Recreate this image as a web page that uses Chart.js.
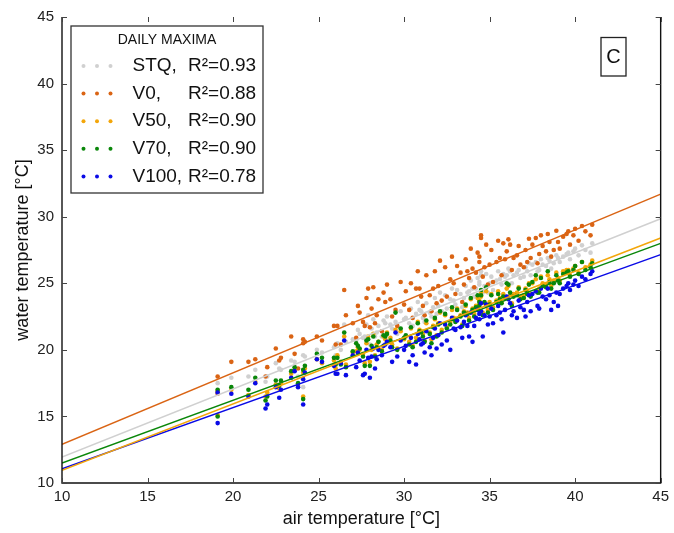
<!DOCTYPE html>
<html><head><meta charset="utf-8">
<script src="https://cdn.jsdelivr.net/npm/chart.js@4/dist/chart.umd.min.js"></script>
<style>html,body{margin:0;padding:0;background:#fff}#wrap{width:674px;height:533px;position:relative}</style>
</head><body><div id="wrap"><canvas id="c" width="674" height="533"></canvas></div>
<script>
// daily maximum air temperature (x) shared by every series
const airTemp = [19.1,19.1,19.9,20.9,21.3,21.9,22.0,22.5,22.7,22.8,23.4,23.6,23.8,24.1,24.1,24.2,24.9,25.2,25.9,26.0,
26.1,26.3,26.5,26.6,27.0,27.2,27.3,27.6,27.7,27.9,28.0,28.1,28.2,28.4,28.5,28.7,28.9,29.0,29.2,29.5,
29.6,30.1,30.3,30.4,30.7,30.9,31.1,31.3,31.5,31.6,31.8,32.0,32.2,32.4,32.7,32.8,33.0,33.3,33.5,33.6,
33.8,34.0,34.1,34.3,34.4,34.5,34.5,34.6,34.8,35.0,35.2,35.5,35.6,35.8,36.0,36.2,36.3,36.6,36.8,37.1,
37.2,37.3,37.4,37.7,37.9,38.1,38.4,38.6,38.75,38.9,39.0,39.3,39.5,39.7,39.9,40.0,40.4,40.6,40.9,41.0,
27.4,27.8,28.3,28.8,29.3,29.8,30.0,30.5,30.8,31.0,31.2,31.7,31.9,32.1,32.5,32.9,33.1,33.4,33.7,33.9,
34.2,34.4,34.7,34.9,35.1,35.4,35.7,35.9,36.1,36.4,36.7,37.0,37.5,37.8,38.0,38.3,38.5,39.1,39.6,40.2];
const stq = [17.5,16.9,17.9,18.0,18.5,17.6,18.0,19.0,18.6,18.5,19.2,19.1,18.0,19.6,17.2,19.5,20.0,19.8,20.2,19.6,
20.5,20.0,21.9,20.6,20.8,20.7,21.5,20.9,21.0,22.6,20.4,21.6,22.3,21.3,21.8,21.0,22.0,22.5,21.9,22.1,
21.2,22.4,22.0,23.1,22.7,23.0,22.4,23.5,22.8,22.5,23.9,23.3,22.9,24.1,23.8,24.6,23.4,24.2,23.9,24.8,
24.4,24.6,24.0,25.4,24.9,25.9,25.6,24.3,25.7,25.0,24.5,25.9,25.3,25.7,25.6,25.9,25.0,25.8,25.4,26.2,
25.9,26.5,25.6,26.6,26.0,26.4,26.9,26.1,26.5,27.1,26.9,27.0,27.2,26.8,27.4,27.6,27.85,27.5,27.3,28.0,
21.2,21.9,21.0,22.2,21.6,22.9,22.3,21.8,23.6,22.9,22.1,23.2,22.7,24.3,23.1,23.7,24.5,23.2,24.3,25.2,
24.6,25.1,24.8,24.3,25.5,25.2,24.9,25.5,26.1,25.6,26.0,25.5,26.4,25.9,26.8,26.3,26.7,26.6,27.3,27.1];
const v0 = [18.0,16.7,19.1,19.1,19.3,18.0,18.7,20.1,19.2,19.4,21.0,19.7,18.6,20.8,20.5,20.6,21.0,20.7,21.8,20.4,
21.8,20.4,24.5,22.6,22.0,20.9,23.3,22.1,21.8,24.6,21.7,23.1,24.7,22.6,23.8,21.4,23.6,24.9,23.8,23.0,
21.8,24.4,23.0,25.0,24.6,24.6,23.3,25.6,24.1,22.9,25.9,24.8,23.7,26.2,25.3,27.0,24.2,25.8,24.9,26.8,
25.4,26.1,24.7,27.3,26.6,28.6,28.4,25.5,27.9,26.4,25.1,28.2,26.9,28.0,27.4,27.9,26.0,27.1,26.4,27.5,
26.6,28.35,26.9,28.4,27.2,27.8,28.7,27.0,27.5,28.95,28.1,28.5,28.7,27.9,28.6,29.1,29.3,28.9,28.6,29.4,
22.8,23.9,22.0,24.3,22.5,25.1,23.4,22.4,25.9,24.0,22.6,24.6,23.5,26.7,24.0,25.0,26.3,23.6,25.9,27.6,
25.8,27.0,26.2,24.9,27.5,26.6,25.6,26.8,28.3,26.9,27.8,26.2,27.9,26.5,28.6,27.4,28.1,27.6,28.9,28.2];
const v50 = [16.9,15.1,17.0,16.6,17.6,16.5,16.8,17.4,17.1,17.5,18.2,18.5,17.3,18.3,16.5,18.6,19.3,19.0,19.2,18.6,
19.6,19.1,21.0,18.9,19.8,19.9,20.2,19.7,19.0,21.0,19.1,20.0,21.2,20.4,20.6,20.0,20.8,21.3,20.9,21.5,
20.1,21.0,20.6,21.6,20.9,21.5,21.2,22.0,21.3,20.8,22.3,22.0,21.5,22.6,22.1,23.0,22.3,22.6,22.9,23.3,
22.4,23.1,22.7,23.9,23.4,24.3,24.0,22.8,24.4,23.6,23.2,24.4,23.9,24.2,24.6,24.1,23.5,24.3,24.0,24.6,
24.4,25.0,24.2,25.3,24.6,25.0,25.6,24.8,25.2,25.8,25.4,25.9,26.0,25.6,26.1,26.3,26.6,26.2,26.4,26.7,
20.0,20.5,19.6,21.0,20.4,21.4,20.8,20.3,22.1,21.4,20.7,21.8,21.1,22.8,21.7,22.4,23.1,21.9,22.8,23.8,
23.3,23.7,23.5,23.0,24.2,23.7,23.6,24.0,24.8,24.2,24.7,24.1,25.0,24.5,25.5,24.9,25.3,25.2,26.0,25.8];
const v70 = [17.0,15.0,17.2,17.0,17.9,16.2,16.5,17.7,17.3,17.7,18.4,18.7,17.5,18.5,16.3,18.8,19.7,19.4,19.4,18.9,
19.4,18.9,21.3,18.7,19.9,20.5,20.3,19.5,18.8,20.8,18.8,20.3,21.0,20.2,20.6,19.9,21.0,21.2,20.7,22.8,
20.0,21.1,20.4,21.7,20.6,21.4,21.0,22.2,21.2,20.5,22.4,21.9,21.3,22.7,21.9,23.2,22.1,22.5,22.8,23.4,
22.2,23.0,22.5,24.1,23.3,24.5,24.1,22.6,24.7,23.4,23.0,24.2,23.8,24.0,25.0,24.3,23.3,24.1,23.8,24.5,
24.2,24.9,24.0,25.6,24.3,24.8,25.9,24.6,25.0,25.6,25.2,25.7,25.8,25.5,26.0,26.3,26.6,26.0,26.2,26.5,
20.1,20.7,19.5,21.1,20.2,21.6,20.9,20.2,22.0,21.3,20.6,21.7,21.0,22.9,21.6,22.3,23.0,21.8,22.7,23.9,
23.2,23.6,23.6,22.8,24.1,23.6,23.5,23.9,24.9,24.0,24.6,23.9,25.1,24.3,25.4,24.7,25.1,25.0,25.9,25.7];
const v100 = [16.8,14.5,16.7,16.5,17.5,15.6,15.9,17.2,16.4,17.0,17.9,18.4,17.2,17.8,15.9,18.3,19.3,19.1,18.8,18.2,
18.2,19.0,20.7,18.1,19.6,18.7,19.8,18.1,18.2,19.4,17.9,19.5,20.1,19.3,20.0,19.6,20.4,20.6,20.2,21.3,
19.5,20.3,19.1,20.9,18.9,20.8,20.5,21.4,20.2,19.6,21.6,21.1,20.4,21.9,20.0,22.4,21.5,21.7,22.1,22.6,
21.0,20.6,21.8,23.0,22.3,23.5,22.9,21.0,23.4,22.5,22.0,23.3,22.8,21.3,24.0,23.5,22.6,22.4,23.2,22.5,
23.6,24.1,22.9,24.4,23.1,24.0,24.6,23.0,23.6,24.3,23.3,24.6,24.8,24.5,24.9,25.2,25.5,25.3,25.7,25.9,
19.2,20.0,18.6,20.3,19.1,20.7,20.0,19.6,21.2,20.4,19.8,20.9,20.1,22.0,20.7,21.6,22.2,20.9,21.8,22.8,
22.4,22.7,22.6,21.9,23.1,22.6,22.3,23.0,23.8,22.9,23.7,23.0,24.2,23.3,24.6,23.8,24.1,24.2,25.0,24.8];

const seriesNames = ['STQ,', 'V0,', 'V50,', 'V70,', 'V100,'];
const r2Labels = ['R\u00b2=0.93', 'R\u00b2=0.88', 'R\u00b2=0.90', 'R\u00b2=0.90', 'R\u00b2=0.78'];
const seriesColors = ['#d0d0d0', '#da6414', '#f3a60a', '#0a870a', '#0a0ae6'];
// regression lines read at x = 10 and x = 45
const fitX = [10, 45];
const fitStart = [11.95, 12.9, 10.95, 11.5, 11.07];
const fitEnd = [29.85, 31.7, 28.4, 28.0, 27.15];
const tickValues = [10, 15, 20, 25, 30, 35, 40, 45];

const seriesY = [stq, v0, v50, v70, v100];
const FONT = 'Liberation Sans, Arial, sans-serif';

const datasets = [];
seriesY.forEach((ys, i) => {
  datasets.push({
    label: seriesNames[i],
    data: airTemp.map((x, k) => ({x: x, y: ys[k]})),
    backgroundColor: seriesColors[i],
    borderWidth: 0,
    pointRadius: 2.3,
    showLine: false,
    order: 10 - i
  });
});
seriesY.forEach((ys, i) => {
  datasets.push({
    label: seriesNames[i] + ' fit',
    data: fitX.map((x, k) => ({x: x, y: k === 0 ? fitStart[i] : fitEnd[i]})),
    borderColor: seriesColors[i],
    borderWidth: 1.5,
    pointRadius: 0,
    showLine: true,
    order: 1
  });
});

const frame = {
  id: 'frame',
  afterDatasetsDraw(chart) {
    const {ctx, chartArea: a, scales: {x, y}} = chart;
    ctx.save();
    // spines: left, bottom, right (no top spine)
    ctx.strokeStyle = '#111';
    ctx.lineWidth = 1.4;
    ctx.beginPath();
    ctx.moveTo(a.left, a.top); ctx.lineTo(a.left, a.bottom); ctx.lineTo(a.right, a.bottom); ctx.lineTo(a.right, a.top);
    ctx.stroke();
    // inward ticks
    ctx.strokeStyle = '#444';
    ctx.lineWidth = 1;
    ctx.beginPath();
    tickValues.forEach(v => {
      const px = Math.round(x.getPixelForValue(v)) + 0.5;
      ctx.moveTo(px, a.bottom); ctx.lineTo(px, a.bottom - 5);
      ctx.moveTo(px, a.top); ctx.lineTo(px, a.top + 5);
      const py = Math.round(y.getPixelForValue(v)) + 0.5;
      ctx.moveTo(a.left, py); ctx.lineTo(a.left + 5, py);
      ctx.moveTo(a.right, py); ctx.lineTo(a.right - 5, py);
    });
    ctx.stroke();
    // legend box
    ctx.strokeStyle = '#333';
    ctx.lineWidth = 1.3;
    ctx.strokeRect(71, 26, 192, 167);
    ctx.fillStyle = '#111';
    ctx.textBaseline = 'middle';
    ctx.textAlign = 'center';
    ctx.font = '14px ' + FONT;
    ctx.fillText('DAILY MAXIMA', 167, 40);
    ctx.textAlign = 'left';
    ctx.font = '19px ' + FONT;
    seriesNames.forEach((name, i) => {
      const yy = 66 + i * 27.6;
      ctx.fillStyle = seriesColors[i];
      [83.5, 97, 110.5].forEach(dx => { ctx.beginPath(); ctx.arc(dx, yy, 2, 0, Math.PI * 2); ctx.fill(); });
      ctx.fillStyle = '#111';
      ctx.fillText(name, 132.5, yy);
      ctx.fillText(r2Labels[i], 188, yy);
    });
    // panel letter
    ctx.strokeStyle = '#222';
    ctx.lineWidth = 1.3;
    ctx.strokeRect(601, 37.5, 25, 38.5);
    ctx.textAlign = 'center';
    ctx.font = '20px ' + FONT;
    ctx.fillText('C', 613.5, 57.5);
    ctx.restore();
  }
};

new Chart(document.getElementById('c'), {
  type: 'scatter',
  data: {datasets},
  options: {
    responsive: false,
    animation: false,
    devicePixelRatio: 1,
    layout: {padding: {left: 0, right: 10, top: 16, bottom: 0}},
    plugins: {legend: {display: false}, tooltip: {enabled: false}},
    scales: {
      x: {
        type: 'linear', min: 10, max: 45,
        afterFit: s => { s.height = 50; },
        afterBuildTicks: s => { s.ticks = tickValues.map(v => ({value: v})); },
        ticks: {color: '#222', font: {size: 15, family: FONT}, padding: 5, autoSkip: false, maxRotation: 0},
        grid: {display: false, drawTicks: false},
        border: {display: false},
        title: {display: true, text: 'air temperature [°C]', color: '#111', font: {size: 18, family: FONT}, padding: {top: 0, bottom: 3}}
      },
      y: {
        type: 'linear', min: 10, max: 45,
        afterFit: s => { s.width = 62; },
        afterBuildTicks: s => { s.ticks = tickValues.map(v => ({value: v})); },
        ticks: {color: '#222', font: {size: 15, family: FONT}, padding: 8, autoSkip: false},
        grid: {display: false, drawTicks: false},
        border: {display: false},
        title: {display: true, text: 'water temperature [°C]', color: '#111', font: {size: 18, family: FONT}, padding: {top: 12, bottom: 0}}
      }
    }
  },
  plugins: [frame]
});
</script>
</body></html>
